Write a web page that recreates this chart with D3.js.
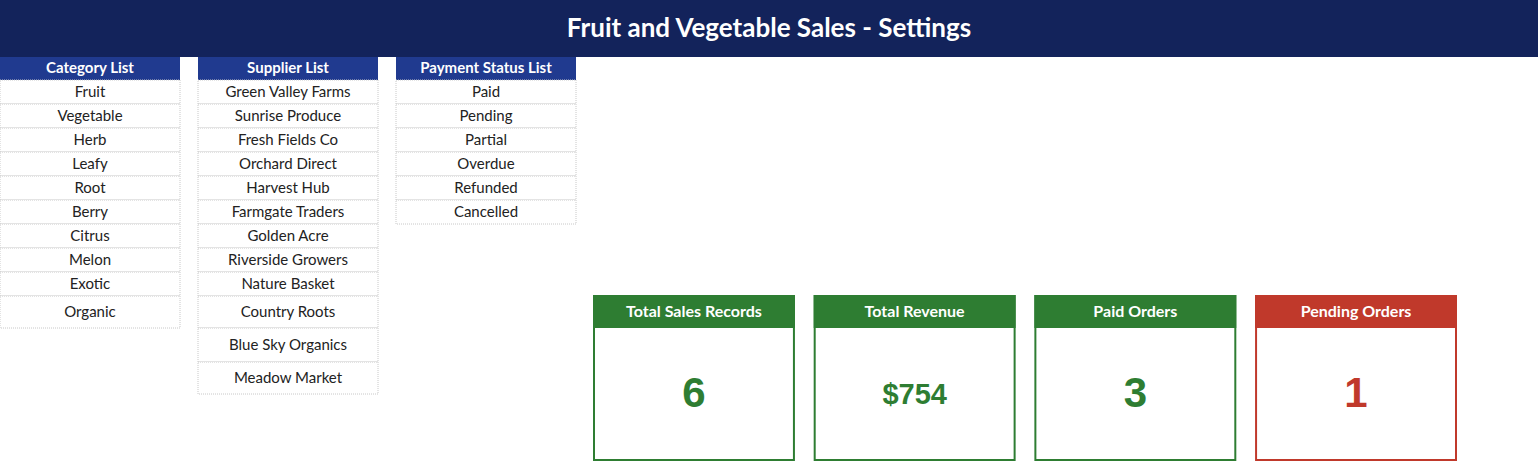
<!DOCTYPE html>
<html><head><meta charset="utf-8">
<script src="https://cdn.jsdelivr.net/npm/d3@7"></script>
<style>body{margin:0;background:#fff;font-family:Lato,"Open Sans",sans-serif}</style>
</head><body><div id="chart-area"></div>
<script>
var width = 1538, height = 461;

// data
var title = "Fruit and Vegetable Sales - Settings";
var categories = ["Fruit","Vegetable","Herb","Leafy","Root","Berry","Citrus","Melon","Exotic","Organic"];
var suppliers = ["Green Valley Farms","Sunrise Produce","Fresh Fields Co","Orchard Direct","Harvest Hub","Farmgate Traders","Golden Acre","Riverside Growers","Nature Basket","Country Roots","Blue Sky Organics","Meadow Market"];
var paymentStatuses = ["Paid","Pending","Partial","Overdue","Refunded","Cancelled"];
var kpiLabels = ["Total Sales Records","Total Revenue","Paid Orders","Pending Orders"];
var kpiValues = ["6","$754","3","1"];

var svg = d3.select("#chart-area").append("svg")
    .attr("width", width).attr("height", height);

// header band
svg.append("rect").attr("x",0).attr("y",0).attr("width",width).attr("height",57).attr("fill","#13235b");
svg.append("text").attr("x",width/2).attr("y",30).attr("text-anchor","middle").attr("dominant-baseline","middle")
  .attr("fill","#fff").style("font-size","26px").style("font-weight","bold").text(title);

// lists
var lists = [
  {name:"Category List", items:categories, x:0, tall:{9:32}},
  {name:"Supplier List", items:suppliers, x:198, tall:{9:32,10:34,11:32}},
  {name:"Payment Status List", items:paymentStatuses, x:396, tall:{}}
];

lists.forEach(function(l){
  var g = svg.append("g").attr("transform","translate("+l.x+",57)");
  var w = 180;
  g.append("rect").attr("width",w).attr("height",23).attr("fill","#203a8f");
  g.append("text").attr("x",w/2).attr("y",12.5).attr("text-anchor","middle").attr("dominant-baseline","middle")
    .attr("fill","#fff").style("font-size","15px").style("font-weight","bold").text(l.name);
  var y = 23;
  var rows = l.items.map(function(d,i){ var h = l.tall[i] || 24; var r = {t:d,y:y,h:h}; y += h; return r; });
  var rg = g.selectAll("g.row").data(rows).enter().append("g").attr("class","row")
    .attr("transform", function(d){ return "translate(0,"+d.y+")"; });
  rg.append("rect").attr("width",w).attr("height",function(d){return d.h;})
    .attr("fill","#fff").attr("stroke","#c8c8c8").attr("stroke-dasharray","1,1");
  rg.append("text").attr("x",w/2).attr("y",function(d){return d.h/2+1;})
    .attr("text-anchor","middle").attr("dominant-baseline","middle")
    .attr("fill","#222").style("font-size","15px").text(function(d){return d.t;});
});

// KPI cards
var x = d3.scaleBand().domain(kpiLabels).range([593,1457]).paddingInner(0.085);
var card = svg.selectAll("g.card").data(kpiLabels).enter().append("g").attr("class","card")
  .attr("transform", function(d){ return "translate("+x(d)+",295)"; });
function col(i){ return i===3 ? "#c0392b" : "#2e7d32"; }
card.append("rect").attr("x",1).attr("y",1).attr("width",x.bandwidth()-2).attr("height",164)
  .attr("fill","#fff").attr("stroke",function(d,i){return col(i);}).attr("stroke-width",2);
card.append("rect").attr("width",x.bandwidth()).attr("height",33).attr("fill",function(d,i){return col(i);});
card.append("text").attr("x",x.bandwidth()/2).attr("y",17.5).attr("text-anchor","middle").attr("dominant-baseline","middle")
  .attr("fill","#fff").style("font-size","16px").style("font-weight","bold").text(function(d){return d;});
card.append("text").attr("x",x.bandwidth()/2).attr("y",101).attr("text-anchor","middle").attr("dominant-baseline","middle")
  .attr("fill",function(d,i){return col(i);}).style("font-family","Liberation Sans, Arial, sans-serif")
  .style("font-weight","bold").style("font-size",function(d,i){return i===1 ? "29px" : "42px";})
  .text(function(d,i){return kpiValues[i];});
</script></body></html>
